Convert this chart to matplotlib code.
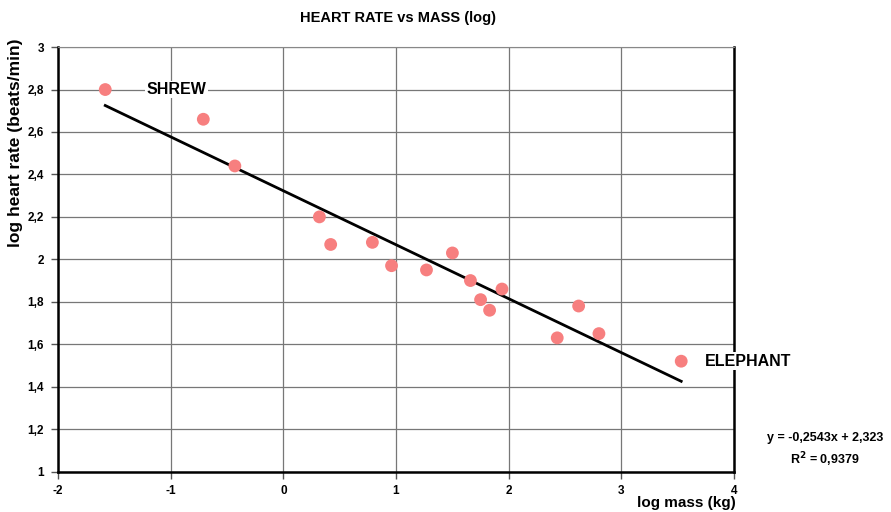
import numpy as np
import matplotlib.pyplot as plt

# ==============================
# DATI
# ==============================
log_mass = [-1.58, -0.71, -0.43, 0.32, 0.42, 0.79, 0.96, 1.27, 1.50,
            1.66, 1.75, 1.83, 1.94, 2.43, 2.62, 2.80, 3.53]
log_hr = [2.80, 2.66, 2.44, 2.20, 2.07, 2.08, 1.97, 1.95, 2.03,
          1.90, 1.81, 1.76, 1.86, 1.63, 1.78, 1.65, 1.52]

slope = -0.2543
intercept = 2.323
r2 = 0.9379

x_ticks = [-2, -1, 0, 1, 2, 3, 4]
y_ticks = [1, 1.2, 1.4, 1.6, 1.8, 2, 2.2, 2.4, 2.6, 2.8, 3]
y_tick_labels = ["1", "1,2", "1,4", "1,6", "1,8", "2", "2,2", "2,4", "2,6", "2,8", "3"]

plt.rcParams['font.family'] = ['Liberation Sans', 'DejaVu Sans']
plt.rcParams['font.weight'] = 'bold'
plt.rcParams['axes.unicode_minus'] = False

# ==============================
# GRAFICO
# ==============================
fig = plt.figure(figsize=(8.91, 5.12), dpi=100)
ax = fig.add_axes([0.065, 0.079, 0.759, 0.829])

ax.scatter(log_mass, log_hr, s=85, color='#f77f7f', zorder=3, edgecolors='none')

x_fit = np.array([min(log_mass), max(log_mass)])
ax.plot(x_fit, slope * x_fit + intercept, color='black', lw=2, zorder=2)

ax.annotate("SHREW", (log_mass[0], log_hr[0]), xytext=(30, 0), textcoords='offset points',
            fontsize=11.5, fontweight='bold', va='center', ha='left',
            bbox=dict(facecolor='white', edgecolor='none', pad=1))
ax.annotate("ELEPHANT", (log_mass[-1], log_hr[-1]), xytext=(17, 0), textcoords='offset points',
            fontsize=11.5, fontweight='bold', va='center', ha='left',
            bbox=dict(facecolor='white', edgecolor='none', pad=1), annotation_clip=False)

ax.set_xlim(-2, 4)
ax.set_ylim(1, 3)
ax.set_xticks(x_ticks)
ax.set_yticks(y_ticks)
ax.set_yticklabels(y_tick_labels)
ax.tick_params(labelsize=8.5, length=5, width=1, color='#555555', pad=5)
for lbl in ax.get_xticklabels() + ax.get_yticklabels():
    lbl.set_fontweight('bold')
ax.grid(True, color='#777777', lw=0.9)
ax.set_axisbelow(True)
for side in ['left', 'bottom', 'right']:
    ax.spines[side].set_linewidth(1.8)
ax.spines['top'].set_color('#888888')

fig.text(0.447, 0.965, "HEART RATE vs MASS (log)", ha='center', va='center',
         fontsize=10.5, fontweight='bold', family=['Liberation Sans Narrow', 'Liberation Sans'])
fig.text(0.826, 0.004, "log mass (kg)", ha='right', va='bottom', fontsize=11, fontweight='bold')
fig.text(0.017, 0.925, "log heart rate (beats/min)", ha='center', va='top', rotation=90,
         fontsize=12.5, fontweight='bold')

fig.text(0.926, 0.145, f"y = {slope}x + {intercept}".replace('.', ','), ha='center', va='center',
         fontsize=9, fontweight='bold')
fig.text(0.926, 0.102, f"R$^2$ = {r2}".replace('.', ','), ha='center', va='center',
         fontsize=9, fontweight='bold')

fig.savefig("out.png", dpi=100)
